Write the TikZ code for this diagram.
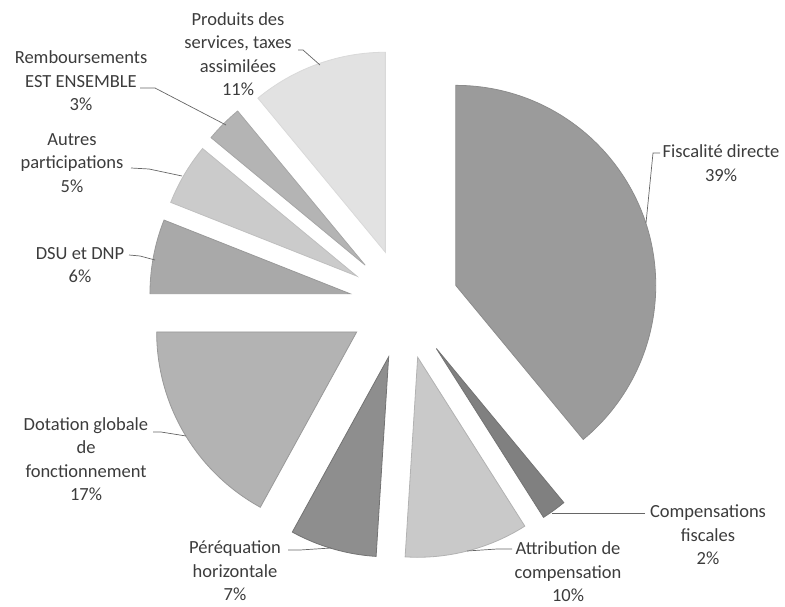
\documentclass[tikz,border=0pt]{standalone}
\usepackage{fontspec}
\setmainfont{Carlito}
\usetikzlibrary{calc}
\definecolor{cfisc}{HTML}{9B9B9B}
\definecolor{ccomp}{HTML}{808080}
\definecolor{cattr}{HTML}{C9C9C9}
\definecolor{cper}{HTML}{8E8E8E}
\definecolor{cdot}{HTML}{B3B3B3}
\definecolor{cdsu}{HTML}{A9A9A9}
\definecolor{cautr}{HTML}{CBCBCB}
\definecolor{cremb}{HTML}{B4B4B4}
\definecolor{cprod}{HTML}{E2E2E2}
\definecolor{ctext}{HTML}{3C3C3C}
\newcommand\myslice[5]{%
  \path[slicebox, fill=#4, draw=#5] ($(C)+(#1:55)$) -- ++(#2:200)
    arc[start angle=#2, end angle=#3, radius=200] -- cycle;}
\begin{document}
\begin{tikzpicture}[x=1pt,y=1pt,
  slicebox/.style={line width=0.8pt, line join=miter},
  lab/.style={align=center, text=ctext, font=\fontsize{18.5}{23.5}\selectfont, inner sep=0pt},
  leader/.style={draw=black!60, line width=0.7pt}]
\useasboundingbox (0,0) rectangle (785,606);
\coordinate (C) at (404,302);
% slices
\myslice{19.8}{90}{-50.4}{cfisc}{black!45}
\myslice{-54}{-50.4}{-57.6}{ccomp}{black!55}
\myslice{-75.6}{-57.6}{-93.6}{cattr}{black!30}
\myslice{-106.2}{-93.6}{-118.8}{cper}{black!55}
\myslice{-149.4}{-118.8}{-180}{cdot}{black!40}
\myslice{-190.8}{-180}{-201.6}{cdsu}{black!40}
\myslice{-210.6}{-201.6}{-219.6}{cautr}{black!25}
\myslice{-225}{-219.6}{-230.4}{cremb}{black!35}
\myslice{-250.2}{-230.4}{-270}{cprod}{black!15}
% labels
\node[lab] (lprod) at (238,552) {Produits des\\services, taxes\\assimilées\\11\%};
\node[lab] (lremb) at (81,525) {Remboursements\\EST ENSEMBLE\\3\%};
\node[lab] (lautr) at (72,443) {Autres\\participations\\5\%};
\node[lab] (ldsu) at (80,341) {DSU et DNP\\6\%};
\node[lab] (ldot) at (86,147) {Dotation globale\\de\\fonctionnement\\17\%};
\node[lab] (lper) at (235,35) {Péréquation\\horizontale\\7\%};
\node[lab] (lattr) at (568,34) {Attribution de\\compensation\\10\%};
\node[lab] (lcomp) at (708,71) {Compensations\\fiscales\\2\%};
\node[lab] (lfisc) at (721,443) {Fiscalité directe\\39\%};
% leader coordinates
\coordinate (pA) at (298,556); \coordinate (pB) at (320,541);
\coordinate (rA) at (140,518); \coordinate (rB) at (226,481);
\coordinate (aA) at (131,438); \coordinate (aB) at (182,430);
\coordinate (dA) at (129,351); \coordinate (dB) at (155,346);
\coordinate (gA) at (153,174); \coordinate (gB) at (186,170);
\coordinate (qA) at (288,56);  \coordinate (qB) at (331,58);
\coordinate (tA) at (512,57);  \coordinate (tB) at (467,55);
\coordinate (cA) at (645,93);  \coordinate (cB) at (552,93);
\coordinate (fA) at (660,453); \coordinate (fB) at (646,383);
% leaders
\draw[leader] (pA) -- ++(5,0) -- (pB);
\draw[leader] (rA) -- ++(15,0) -- (rB);
\draw[leader] (aA) -- ++(18,-1) -- (aB);
\draw[leader] (dA) -- ++(11,-1) -- (dB);
\draw[leader] (gA) -- ++(8,0) -- (gB);
\draw[leader] (qA) -- ++(12,0) -- (qB);
\draw[leader] (tA) -- ++(-15,0) -- (tB);
\draw[leader] (cA) -- (cB);
\draw[leader] (fA) -- ++(-7,0) -- (fB);
\end{tikzpicture}
\end{document}
